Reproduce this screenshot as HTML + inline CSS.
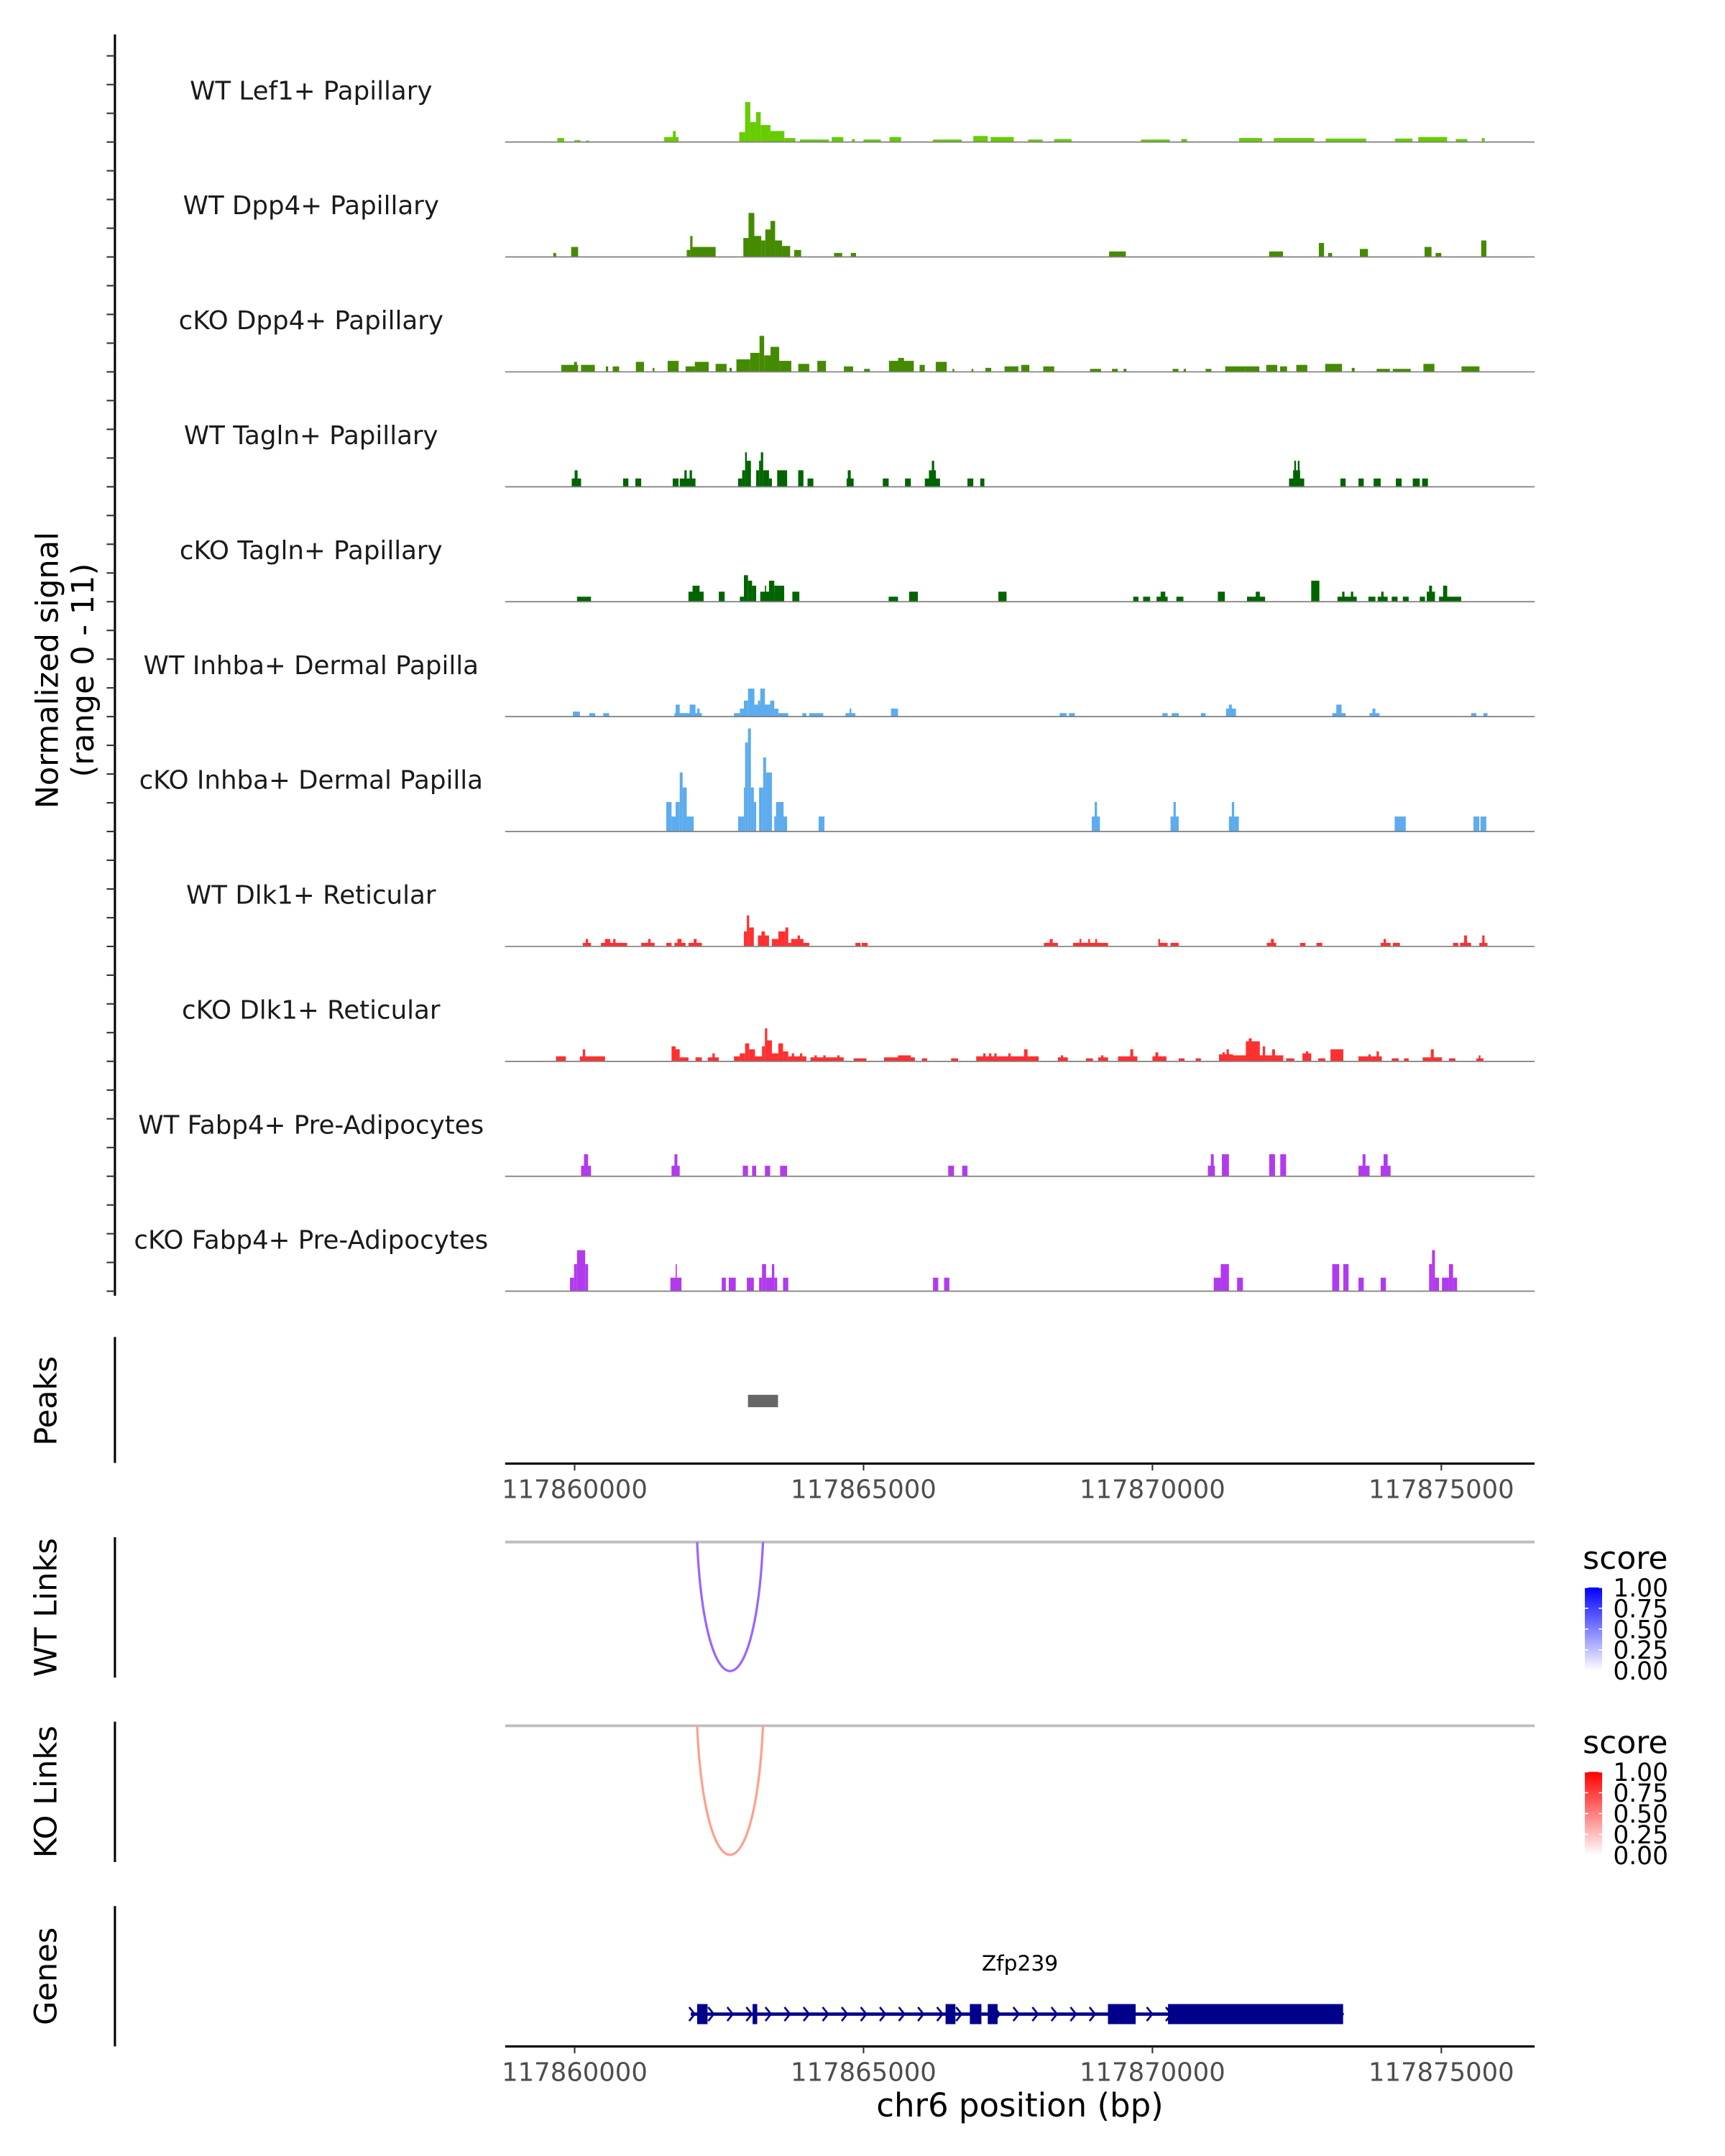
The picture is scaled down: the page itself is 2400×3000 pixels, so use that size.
<!DOCTYPE html>
<html><head><meta charset="utf-8"><style>
html,body{margin:0;padding:0;background:#fff;}
svg{display:block;font-family:"DejaVu Sans","Liberation Sans",sans-serif;}
</style></head><body>
<svg id="chart" xmlns="http://www.w3.org/2000/svg" width="2400" height="3000" viewBox="0 0 1253.3 1566.6">
<rect x="0" y="0" width="1253.3" height="1566.6" fill="#fff"/>
<g id="tracks"></g>
<g id="labels"></g>
<g id="lower"></g>
</svg>
<script>
// ---- data (positions in kb on chr6, values in normalized signal units) ----
const trackNames = ["WT Lef1+ Papillary","WT Dpp4+ Papillary","cKO Dpp4+ Papillary","WT Tagln+ Papillary","cKO Tagln+ Papillary","WT Inhba+ Dermal Papilla","cKO Inhba+ Dermal Papilla","WT Dlk1+ Reticular","cKO Dlk1+ Reticular","WT Fabp4+ Pre-Adipocytes","cKO Fabp4+ Pre-Adipocytes"];
const trackColors = ["#66CD00","#458B00","#458B00","#006400","#006400","#5CACEE","#5CACEE","#FF3030","#FF3030","#B23AEE","#B23AEE"];
// tracks 4-11 positions were read on a slightly compressed kb grid; flag per track
const trackGridCorrected = [false,false,false,true,true,true,true,true,true,true,true];
const lef1WT = [[117859.70,117859.82,0.4],[117860.00,117860.10,0.2],[117860.20,117860.25,0.15],[117861.55,117861.80,0.5],[117861.70,117861.75,1.1],[117862.85,117862.95,1.0],[117862.95,117863.04,4.0],[117863.04,117863.14,2.0],[117863.14,117863.22,3.0],[117863.22,117863.39,1.7],[117863.39,117863.63,1.1],[117863.63,117863.82,0.4],[117863.90,117864.40,0.25],[117864.45,117864.65,0.5],[117864.80,117864.85,0.3],[117865.00,117865.30,0.25],[117865.45,117865.65,0.5],[117866.20,117866.70,0.25],[117866.90,117867.15,0.6],[117867.20,117867.60,0.5],[117867.85,117868.10,0.25],[117868.30,117868.60,0.3],[117869.80,117870.30,0.25],[117870.50,117870.60,0.3],[117871.50,117871.90,0.4],[117872.10,117872.80,0.4],[117873.00,117873.70,0.35],[117874.20,117874.50,0.35],[117874.60,117875.10,0.5],[117875.25,117875.45,0.3],[117875.70,117875.75,0.4]];
const dpp4WT = [[117859.63,117859.68,0.4],[117859.94,117860.06,1.0],[117861.94,117862.00,0.7],[117862.00,117862.04,2.1],[117862.04,117862.44,1.0],[117862.92,117863.01,1.9],[117863.01,117863.11,4.4],[117863.11,117863.23,2.1],[117863.23,117863.30,1.65],[117863.30,117863.39,2.75],[117863.39,117863.47,3.6],[117863.47,117863.59,1.65],[117863.59,117863.73,1.1],[117863.80,117863.92,0.7],[117864.49,117864.63,0.4],[117864.78,117864.87,0.4],[117869.25,117869.54,0.55],[117872.02,117872.26,0.55],[117872.88,117872.97,1.4],[117873.04,117873.11,0.4],[117873.59,117873.73,0.8],[117874.71,117874.83,1.0],[117874.90,117875.00,0.4],[117875.69,117875.78,1.65]];
const dpp4KO = [[117859.77,117860.06,0.7],[117859.99,117860.04,1.0],[117860.11,117860.35,0.7],[117860.54,117860.58,0.55],[117860.66,117860.77,0.55],[117861.06,117861.20,1.0],[117861.35,117861.38,0.4],[117861.61,117861.80,1.1],[117861.92,117862.08,0.55],[117862.08,117862.32,1.0],[117862.44,117862.63,0.8],[117862.68,117862.72,0.4],[117862.80,117863.04,1.25],[117863.04,117863.20,1.9],[117863.20,117863.28,3.6],[117863.28,117863.39,1.65],[117863.39,117863.54,2.5],[117863.54,117863.75,1.1],[117863.87,117864.06,0.8],[117864.20,117864.35,1.1],[117864.66,117864.82,0.55],[117865.01,117865.11,0.3],[117865.44,117865.87,1.1],[117865.60,117865.70,1.4],[117865.97,117866.06,0.7],[117866.25,117866.44,1.0],[117866.54,117866.57,0.3],[117866.87,117866.90,0.3],[117867.11,117867.21,0.4],[117867.44,117867.68,0.55],[117867.73,117867.87,0.7],[117868.11,117868.30,0.55],[117868.92,117869.11,0.3],[117869.30,117869.40,0.3],[117869.50,117869.55,0.3],[117870.35,117870.45,0.3],[117870.54,117870.58,0.3],[117870.92,117871.02,0.3],[117871.26,117871.61,0.55],[117871.61,117871.85,0.55],[117871.97,117872.16,0.7],[117872.21,117872.33,0.55],[117872.49,117872.68,0.7],[117872.99,117873.28,0.8],[117873.45,117873.50,0.4],[117873.88,117874.11,0.3],[117874.16,117874.47,0.3],[117874.69,117874.88,0.8],[117875.35,117875.66,0.55]];
const taglnWT = [[117859.85,117860.01,0.83],[117859.90,117859.95,1.65],[117860.73,117860.82,0.83],[117860.94,117861.04,0.83],[117861.58,117861.68,0.83],[117861.70,117861.97,0.83],[117861.78,117861.82,1.65],[117861.87,117861.91,1.65],[117862.70,117862.77,0.83],[117862.77,117862.82,1.65],[117862.82,117862.85,3.45],[117862.85,117862.92,2.6],[117863.01,117863.06,1.65],[117863.06,117863.09,2.6],[117863.09,117863.13,3.45],[117863.13,117863.23,1.65],[117863.23,117863.28,0.83],[117863.37,117863.54,1.65],[117863.48,117863.54,0.83],[117863.73,117863.82,1.65],[117863.89,117863.99,0.83],[117864.56,117864.68,0.83],[117864.58,117864.63,1.65],[117865.18,117865.28,0.83],[117865.56,117865.66,0.83],[117865.90,117866.16,0.83],[117865.97,117866.09,1.65],[117866.02,117866.06,2.6],[117866.63,117866.73,0.83],[117866.85,117866.92,0.83],[117872.14,117872.40,0.83],[117872.21,117872.33,1.65],[117872.23,117872.26,2.6],[117872.29,117872.32,2.6],[117873.02,117873.11,0.83],[117873.33,117873.42,0.83],[117873.59,117873.71,0.83],[117873.97,117874.07,0.83],[117874.26,117874.38,0.83],[117874.42,117874.52,0.83]];
const taglnKO = [[117859.94,117860.18,0.5],[117861.85,117862.11,1.0],[117861.92,117862.04,1.6],[117862.37,117862.47,1.0],[117862.73,117862.80,0.5],[117862.80,117862.87,2.65],[117862.87,117862.94,2.1],[117862.94,117863.01,1.6],[117863.08,117863.32,1.0],[117863.16,117863.18,1.6],[117863.23,117863.32,2.1],[117863.32,117863.49,1.6],[117863.63,117863.75,1.0],[117865.28,117865.44,0.5],[117865.63,117865.78,1.0],[117867.16,117867.30,1.0],[117869.47,117869.56,0.5],[117869.64,117869.76,0.5],[117869.87,117870.06,0.5],[117869.94,117870.02,1.0],[117870.21,117870.33,0.5],[117870.92,117871.04,1.0],[117871.42,117871.73,0.5],[117871.57,117871.64,1.0],[117872.52,117872.66,2.1],[117872.97,117873.30,0.5],[117873.05,117873.09,1.0],[117873.20,117873.24,1.0],[117873.50,117873.62,0.5],[117873.66,117873.83,0.5],[117873.72,117873.76,1.0],[117873.90,117874.00,0.5],[117874.09,117874.19,0.5],[117874.38,117874.47,0.5],[117874.50,117874.64,1.0],[117874.54,117874.59,1.6],[117874.71,117875.09,0.5],[117874.78,117874.85,1.6]];
const inhbaWT = [[117859.87,117859.99,0.5],[117860.15,117860.25,0.35],[117860.39,117860.49,0.35],[117861.61,117862.08,0.35],[117861.63,117861.70,1.2],[117861.87,117861.97,1.2],[117862.00,117862.04,0.8],[117862.63,117862.73,0.35],[117862.73,117862.80,0.8],[117862.80,117862.87,1.6],[117862.87,117862.98,2.8],[117862.98,117863.23,1.2],[117863.04,117863.08,1.6],[117863.08,117863.16,2.8],[117863.16,117863.25,1.2],[117863.25,117863.32,1.6],[117863.32,117863.39,0.8],[117863.39,117863.56,0.35],[117863.80,117863.87,0.35],[117863.92,117864.16,0.35],[117864.54,117864.71,0.35],[117864.61,117864.64,0.8],[117865.32,117865.44,0.8],[117868.21,117868.33,0.35],[117868.37,117868.47,0.35],[117869.97,117870.06,0.35],[117870.13,117870.25,0.35],[117870.63,117870.71,0.35],[117871.06,117871.23,0.8],[117871.11,117871.16,1.2],[117872.88,117873.11,0.35],[117872.95,117873.04,1.2],[117873.52,117873.69,0.35],[117873.57,117873.62,0.8],[117875.26,117875.35,0.35],[117875.47,117875.54,0.35]];
const inhbaKO = [[117861.47,117861.56,2.95],[117861.56,117861.63,1.5],[117861.63,117861.70,2.95],[117861.70,117861.75,5.9],[117861.75,117861.82,4.4],[117861.82,117861.94,1.5],[117862.70,117862.80,1.5],[117862.80,117862.82,4.4],[117862.82,117862.87,8.9],[117862.87,117862.92,10.3],[117862.92,117862.97,4.4],[117862.97,117863.01,2.95],[117863.06,117863.13,4.4],[117863.13,117863.18,7.4],[117863.18,117863.28,5.9],[117863.32,117863.54,1.5],[117863.35,117863.48,2.95],[117864.08,117864.18,1.5],[117868.76,117868.90,1.5],[117868.81,117868.85,2.95],[117870.11,117870.25,1.5],[117870.16,117870.20,2.95],[117871.11,117871.28,1.5],[117871.16,117871.20,2.95],[117873.95,117874.14,1.5],[117875.30,117875.40,1.5],[117875.42,117875.52,1.5]];
const dlk1WT = [[117860.04,117860.18,0.36],[117860.09,117860.13,0.75],[117860.35,117860.80,0.36],[117860.42,117860.51,0.75],[117860.56,117860.60,0.75],[117861.04,117861.27,0.36],[117861.16,117861.20,0.75],[117861.47,117861.56,0.36],[117861.61,117861.80,0.36],[117861.66,117861.73,0.75],[117861.85,117862.08,0.36],[117861.94,117861.99,0.75],[117862.80,117862.85,1.5],[117862.85,117862.89,3.1],[117862.89,117862.97,1.9],[117863.04,117863.23,1.1],[117863.10,117863.16,1.5],[117863.28,117863.39,0.75],[117863.39,117863.51,1.5],[117863.51,117863.56,1.9],[117863.56,117863.61,0.36],[117863.61,117863.82,0.75],[117863.72,117863.76,1.1],[117863.82,117863.92,0.36],[117864.71,117864.80,0.36],[117864.82,117864.92,0.36],[117867.94,117868.18,0.36],[117868.04,117868.09,0.75],[117868.44,117869.04,0.36],[117868.55,117868.58,0.75],[117868.70,117868.73,0.75],[117868.82,117868.85,0.75],[117869.90,117869.93,0.75],[117869.92,117870.06,0.36],[117870.11,117870.25,0.36],[117871.76,117871.92,0.36],[117871.83,117871.88,0.75],[117872.33,117872.42,0.36],[117872.61,117872.71,0.36],[117873.71,117873.88,0.36],[117873.76,117873.80,0.75],[117873.92,117874.04,0.36],[117874.95,117875.04,0.36],[117875.07,117875.26,0.36],[117875.14,117875.19,1.1],[117875.40,117875.54,0.36],[117875.45,117875.49,1.1]];
const dlk1KO = [[117859.58,117859.75,0.5],[117859.99,117860.42,0.5],[117860.04,117860.08,1.2],[117861.56,117861.63,1.5],[117861.63,117861.70,1.2],[117861.70,117861.85,0.4],[117861.97,117862.08,0.4],[117862.18,117862.37,0.4],[117862.26,117862.30,0.8],[117862.63,117862.73,0.5],[117862.73,117862.82,0.8],[117862.82,117862.89,1.8],[117862.89,117862.99,1.2],[117862.99,117863.11,0.5],[117863.11,117863.16,1.5],[117863.16,117863.20,3.3],[117863.20,117863.28,2.1],[117863.28,117863.39,0.8],[117863.39,117863.47,1.8],[117863.47,117863.56,1.0],[117863.56,117863.87,0.5],[117863.62,117863.66,0.8],[117863.76,117863.80,0.8],[117863.94,117864.51,0.4],[117864.01,117864.05,0.6],[117864.16,117864.20,0.6],[117864.40,117864.44,0.6],[117864.68,117864.90,0.3],[117865.20,117865.73,0.4],[117865.44,117865.66,0.6],[117865.85,117865.94,0.3],[117866.35,117866.47,0.3],[117866.78,117867.85,0.5],[117866.90,117866.94,0.8],[117867.00,117867.04,0.8],[117867.09,117867.13,0.8],[117867.33,117867.37,0.8],[117867.60,117867.66,1.2],[117868.18,117868.35,0.4],[117868.23,117868.27,0.6],[117868.66,117868.78,0.3],[117868.87,117869.04,0.4],[117868.92,117868.96,0.6],[117869.21,117869.54,0.5],[117869.42,117869.47,1.2],[117869.80,117870.04,0.5],[117869.85,117869.90,0.9],[117870.25,117870.35,0.3],[117870.54,117870.63,0.3],[117870.94,117871.18,0.7],[117871.00,117871.04,0.9],[117871.07,117871.11,1.2],[117871.18,117872.04,0.6],[117871.40,117871.64,2.0],[117871.45,117871.50,2.3],[117871.69,117871.73,1.5],[117871.85,117871.90,1.2],[117872.09,117872.23,0.3],[117872.37,117872.52,0.8],[117872.43,117872.47,1.0],[117872.64,117872.76,0.3],[117872.85,117873.07,1.2],[117873.33,117873.73,0.5],[117873.50,117873.54,0.7],[117873.64,117873.68,1.0],[117873.90,117874.02,0.3],[117874.11,117874.19,0.3],[117874.43,117874.76,0.4],[117874.57,117874.62,1.2],[117874.88,117874.99,0.3],[117875.35,117875.47,0.3],[117875.39,117875.42,0.6]];
const fabp4WT = [[117860.01,117860.18,1.05],[117860.06,117860.13,2.2],[117861.56,117861.70,1.05],[117861.61,117861.66,2.2],[117862.78,117862.87,1.05],[117862.94,117863.01,1.05],[117863.16,117863.25,1.05],[117863.42,117863.54,1.05],[117866.30,117866.40,1.05],[117866.54,117866.63,1.05],[117870.75,117870.87,1.05],[117870.80,117870.85,2.2],[117870.99,117871.11,2.2],[117871.80,117871.90,2.2],[117871.99,117872.09,2.2],[117873.33,117873.52,1.05],[117873.40,117873.45,2.2],[117873.71,117873.88,1.05],[117873.76,117873.83,2.2]];
const fabp4KO = [[117859.82,117859.89,1.35],[117859.89,117859.94,2.7],[117859.94,117860.08,4.1],[117860.08,117860.13,2.7],[117861.54,117861.73,1.35],[117861.63,117861.65,2.7],[117862.42,117862.49,1.35],[117862.54,117862.66,1.35],[117862.85,117862.97,1.35],[117863.06,117863.11,1.35],[117863.11,117863.18,2.7],[117863.18,117863.28,1.35],[117863.28,117863.32,2.7],[117863.32,117863.37,1.35],[117863.47,117863.56,1.35],[117866.04,117866.13,1.35],[117866.23,117866.32,1.35],[117870.85,117870.97,1.35],[117870.97,117871.11,2.7],[117871.25,117871.35,1.35],[117872.88,117873.00,2.7],[117873.07,117873.16,2.7],[117873.33,117873.42,1.35],[117873.71,117873.80,1.35],[117874.54,117874.59,2.7],[117874.59,117874.64,4.1],[117874.64,117874.71,1.35],[117874.76,117874.88,1.35],[117874.88,117874.95,2.7],[117874.95,117875.02,1.35]];
const trackData = [lef1WT,dpp4WT,dpp4KO,taglnWT,taglnKO,inhbaWT,inhbaKO,dlk1WT,dlk1KO,fabp4WT,fabp4KO];
const xTicks = [117860000,117865000,117870000,117875000];
const peakRegions = [[117863.00,117863.52]];
const linksWT = [[117862.12,117863.26,0.6]];
const linksKO = [[117862.12,117863.26,0.4]];
const geneSpan = [117862.01,117873.30];
const geneExons = [[117862.12,117862.30],[117863.08,117863.16],[117866.42,117866.59],[117866.84,117867.04],[117867.15,117867.32],[117869.23,117869.71],[117870.27,117873.30]];
const legendTicks = [1.00,0.75,0.50,0.25,0.00];

// ---- scales ----
const NS="http://www.w3.org/2000/svg";
const X0=367, X1=1115;
function xs(kb){ return 417.5 + (kb-117860)*41.98; }
function xsBp(bp){ return xs(bp/1000); }
function kbFromZoom(kb){ return 117860 + 0.1015 + (kb-117860)*1.0101; }
const PXU = 7.27;
function ys(base,v){ return base - v*PXU; }
function mk(tag,attrs,parent){ const e=document.createElementNS(NS,tag); for(const k in attrs) e.setAttribute(k,attrs[k]); parent.appendChild(e); return e; }
const tracksG=document.getElementById('tracks'), labelsG=document.getElementById('labels'), lowerG=document.getElementById('lower');

let ax=mk('line',{x1:83.5,y1:25,x2:83.5,y2:941.5,stroke:'#000','stroke-width':1.6},tracksG);



trackData.forEach((segs,i)=>{
  const base = 103.2 + i*83.5;
  const pos = trackGridCorrected[i] ? (kb)=>xs(kbFromZoom(kb)) : xs;
  const g=mk('g',{},tracksG);
  
  
  for(let k=0;k<4;k++){
    const t=mk('line',{x1:77.5,x2:83.5,y1:base-k*20.875,y2:base-k*20.875,stroke:'#333','stroke-width':1.1},g);
    
    
  }
  segs.forEach(s=>{
    const r=mk('rect',{x:pos(s[0]),y:ys(base,s[2]),width:Math.max(0.8,pos(s[1])-pos(s[0])),height:s[2]*PXU,fill:trackColors[i]},g);
    
    
  });
  const bl=mk('line',{x1:X0,x2:X1,y1:base,y2:base,stroke:'#7f7f7f','stroke-width':0.9},g);
  
  
  const tx=mk('text',{x:226,y:base-31,'text-anchor':'middle','font-size':18.6,fill:'#1a1a1a'},labelsG);
  tx.textContent=trackNames[i];
  
  
});

function vtitle(lines,cx,cy,size,name){
  const t=mk('text',{transform:`translate(${cx},${cy}) rotate(-90)`,'text-anchor':'middle','font-size':size,fill:'#000'},lowerG);
  lines.forEach((l,j)=>{ const ts=mk('tspan',{x:0,dy:j===0?0:size*1.15},t); ts.textContent=l; });
  
  
}
vtitle(["Normalized signal","(range 0 - 11)"],42,487,22.5,'signal-axis-title');
vtitle(["Peaks"],41,1018,22.5,'peaks-title');
vtitle(["WT Links"],41,1168,22.5,'wt-links-title');
vtitle(["KO Links"],41,1302,22.5,'ko-links-title');
vtitle(["Genes"],41,1436,22.5,'genes-title');

function vline(y1,y2,name){ const l=mk('line',{x1:83.5,x2:83.5,y1:y1,y2:y2,stroke:'#000','stroke-width':1.6},lowerG);   }
vline(971.5,1063,'peaks-axis-line'); vline(1117,1219,'wt-links-axis-line'); vline(1251,1353,'ko-links-axis-line'); vline(1385,1487,'genes-axis-line');

peakRegions.forEach(p=>{ const r=mk('rect',{x:xs(p[0]),y:1013.5,width:xs(p[1])-xs(p[0]),height:9,fill:'#666'},lowerG);   });

function xaxis(y,name){
  const g=mk('g',{},lowerG);
  
  
  mk('line',{x1:X0,x2:X1,y1:y,y2:y,stroke:'#000','stroke-width':1.6},g);
  xTicks.forEach(t=>{
    mk('line',{x1:xsBp(t),x2:xsBp(t),y1:y,y2:y+5,stroke:'#333','stroke-width':1.1},g);
    const tx=mk('text',{x:xsBp(t),y:y+25,'text-anchor':'middle','font-size':18.5,fill:'#4d4d4d'},g);
    tx.textContent=String(t);
    
    
  });
}
xaxis(1063.5,'peaks-x-axis');
xaxis(1487,'genes-x-axis');
const xt=mk('text',{x:741,y:1538,'text-anchor':'middle','font-size':23.5,fill:'#000'},lowerG);
xt.textContent='chr6 position (bp)';



function links(arr,top,color,name){
  const g=mk('g',{},lowerG);
  
  
  mk('line',{x1:X0,x2:X1,y1:top,y2:top,stroke:'#bebebe','stroke-width':2},g);
  arr.forEach(l=>{
    const a=xs(l[0]), b=xs(l[1]), depth=94;
    const p=mk('path',{d:`M${a},${top} C${a+(b-a)*0.12},${top+depth*1.33} ${b-(b-a)*0.12},${top+depth*1.33} ${b},${top}`,fill:'none',stroke:color,'stroke-width':1.7},g);
    
    
  });
}
links(linksWT,1120.5,'#9966FF','wt-links-panel');
links(linksKO,1254,'#FFA08C','ko-links-panel');

function legend(top,color,name){
  const g=mk('g',{},lowerG);
  
  
  const id='grad'+name;
  const d=mk('defs',{},g); const lg=mk('linearGradient',{id:id,x1:0,y1:1,x2:0,y2:0},d);
  mk('stop',{offset:0,'stop-color':'#fff'},lg); mk('stop',{offset:1,'stop-color':color},lg);
  const t=mk('text',{x:1150,y:top,'font-size':23,fill:'#000'},g); t.textContent='score';
  const barTop=top+13.5, barH=60.5;
  mk('rect',{x:1151.5,y:barTop,width:12.5,height:barH,fill:`url(#${id})`},g);
  legendTicks.forEach(v=>{
    const yy=barTop+(1-v)*barH;
    mk('line',{x1:1151.5,x2:1154,y1:yy,y2:yy,stroke:'#fff','stroke-width':0.8},g);
    mk('line',{x1:1161.5,x2:1164,y1:yy,y2:yy,stroke:'#fff','stroke-width':0.8},g);
    const lt=mk('text',{x:1172,y:yy+6.5,'font-size':18,fill:'#000'},g); lt.textContent=v.toFixed(2);
  });
}
legend(1140,'#0000FF','wt-score-legend');
legend(1274,'#FF0000','ko-score-legend');

const gg=mk('g',{},lowerG);


const gy=1463.5;
mk('line',{x1:xs(geneSpan[0]),x2:xs(geneSpan[1]),y1:gy,y2:gy,stroke:'#00008B','stroke-width':2.4},gg);
for(let kb=geneSpan[0]+0.02;kb<geneSpan[1];kb+=0.33){
  const x=xs(kb);
  mk('path',{d:`M${x-2},${gy-5} L${x+2},${gy} L${x-2},${gy+5}`,fill:'none',stroke:'#00008B','stroke-width':1.4},gg);
}
geneExons.forEach(e=>{
  const w=xs(e[1])-xs(e[0]);
  const r=mk('rect',{x:xs(e[0]),y:gy-7.3,width:w,height:14.6,fill:'#00008B'},gg);
  
  
});
const gl=mk('text',{x:741,y:1432,'text-anchor':'middle','font-size':15.5,fill:'#000'},gg);
gl.textContent='Zfp239';


</script>
</body></html>
